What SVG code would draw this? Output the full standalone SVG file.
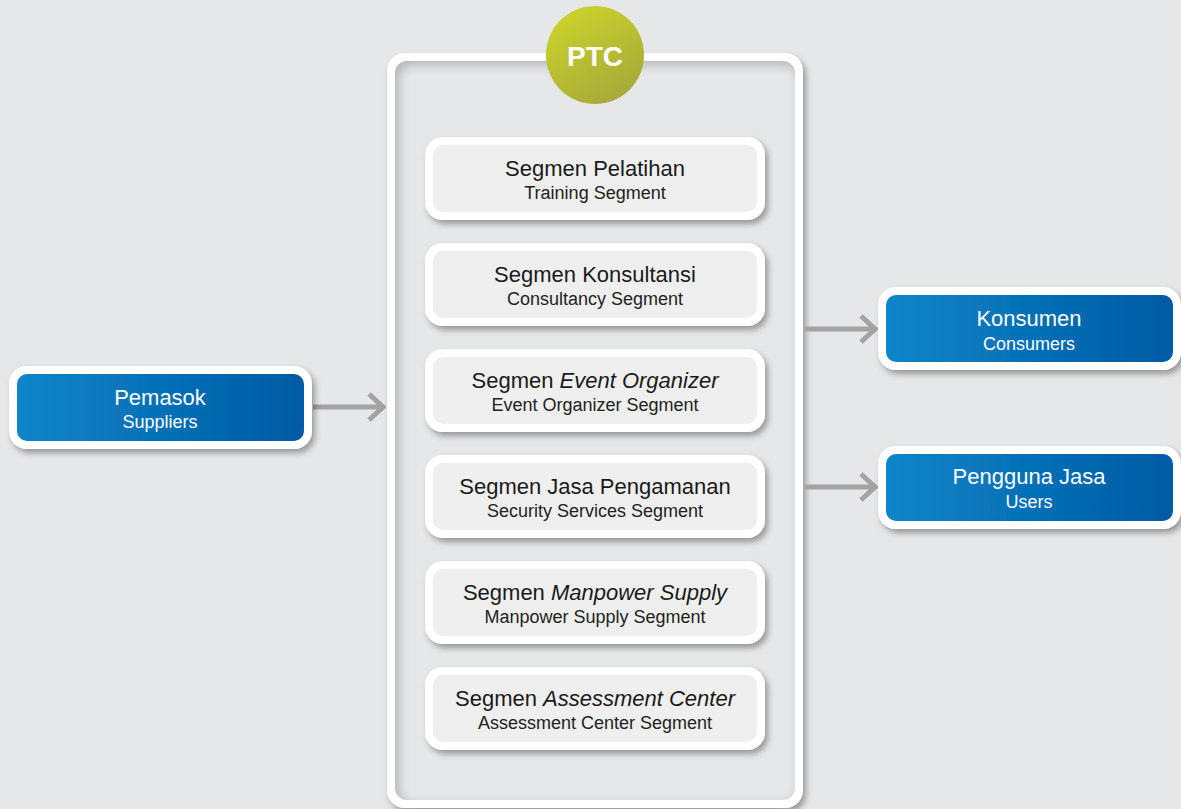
<svg xmlns="http://www.w3.org/2000/svg" width="1181" height="809" viewBox="0 0 1181 809">
<defs>
<linearGradient id="blue" x1="0" y1="0" x2="1" y2="0">
<stop offset="0" stop-color="#0b86c9"/>
<stop offset="1" stop-color="#005aa3"/>
</linearGradient>
<linearGradient id="olive" x1="0.2" y1="0" x2="0.8" y2="1">
<stop offset="0" stop-color="#ccd42b"/>
<stop offset="1" stop-color="#a4a73a"/>
</linearGradient>
<filter id="drop" x="-10%" y="-20%" width="125%" height="150%">
<feDropShadow dx="3" dy="4" stdDeviation="3" flood-color="#000" flood-opacity="0.35"/>
</filter>
<filter id="inset" x="-5%" y="-5%" width="110%" height="110%">
<feComponentTransfer in="SourceAlpha"><feFuncA type="table" tableValues="1 0"/></feComponentTransfer>
<feGaussianBlur stdDeviation="6"/>
<feOffset dx="4" dy="4" result="ob"/>
<feFlood flood-color="#000" flood-opacity="0.45"/>
<feComposite in2="ob" operator="in"/>
<feComposite in2="SourceAlpha" operator="in" result="sh"/>
<feMerge><feMergeNode in="SourceGraphic"/><feMergeNode in="sh"/></feMerge>
</filter>
<marker id="chev" viewBox="0 0 20 30" refX="18" refY="15" markerWidth="20" markerHeight="30" markerUnits="userSpaceOnUse" orient="auto">
<polyline points="3,2 17,15 3,28" fill="none" stroke="#a3a3a3" stroke-width="5"/>
</marker>
</defs>
<style>
text{font-family:"Liberation Sans",Arial,sans-serif;text-anchor:middle}
.seg rect{fill:#efefef;stroke:#fff;stroke-width:8}
.blue rect{fill:url(#blue);stroke:#fff;stroke-width:8}
.t{font-size:22px;fill:#1a1a1a}
.s{font-size:18px;fill:#222}
.bt{font-size:22px;fill:#fff}
.bs{font-size:18px;fill:#fff}
.conn line{stroke:#a3a3a3;stroke-width:5}
</style>
<rect x="0" y="0" width="1181" height="809" fill="#e6e7e8"/>

<g id="ptc-frame">
<rect x="387" y="53" width="416" height="755" rx="18" fill="#fff" filter="url(#drop)"/>
<rect x="395" y="61" width="400" height="739" rx="12" fill="#e6e7e8" filter="url(#inset)"/>
</g>

<g id="ptc">
<circle cx="595" cy="55" r="49" fill="url(#olive)"/>
<text x="595" y="66" style="font-size:28px;font-weight:bold;fill:#fff">PTC</text>
</g>

<g class="conn" id="connectors">
<line x1="313" y1="407" x2="384" y2="407" marker-end="url(#chev)"/>
<line x1="805" y1="329" x2="876" y2="329" marker-end="url(#chev)"/>
<line x1="805" y1="487" x2="876" y2="487" marker-end="url(#chev)"/>
</g>

<g id="seg-pelatihan" class="seg">
<rect x="429" y="141" width="332" height="75" rx="14" filter="url(#drop)"/>
<text class="t" x="595" y="176">Segmen Pelatihan</text>
<text class="s" x="595" y="199">Training Segment</text>
</g>
<g id="seg-konsultansi" class="seg">
<rect x="429" y="247" width="332" height="75" rx="14" filter="url(#drop)"/>
<text class="t" x="595" y="282">Segmen Konsultansi</text>
<text class="s" x="595" y="305">Consultancy Segment</text>
</g>
<g id="seg-event" class="seg">
<rect x="429" y="353" width="332" height="75" rx="14" filter="url(#drop)"/>
<text class="t" x="595" y="388">Segmen <tspan font-style="italic">Event Organizer</tspan></text>
<text class="s" x="595" y="411">Event Organizer Segment</text>
</g>
<g id="seg-jasa" class="seg">
<rect x="429" y="459" width="332" height="75" rx="14" filter="url(#drop)"/>
<text class="t" x="595" y="494">Segmen Jasa Pengamanan</text>
<text class="s" x="595" y="517">Security Services Segment</text>
</g>
<g id="seg-manpower" class="seg">
<rect x="429" y="565" width="332" height="75" rx="14" filter="url(#drop)"/>
<text class="t" x="595" y="600">Segmen <tspan font-style="italic">Manpower Supply</tspan></text>
<text class="s" x="595" y="623">Manpower Supply Segment</text>
</g>
<g id="seg-assessment" class="seg">
<rect x="429" y="671" width="332" height="75" rx="14" filter="url(#drop)"/>
<text class="t" x="595" y="706">Segmen <tspan font-style="italic">Assessment Center</tspan></text>
<text class="s" x="595" y="729">Assessment Center Segment</text>
</g>

<g id="pemasok" class="blue">
<rect x="13" y="370" width="295" height="75" rx="14" filter="url(#drop)"/>
<text class="bt" x="160" y="405">Pemasok</text>
<text class="bs" x="160" y="428">Suppliers</text>
</g>
<g id="konsumen" class="blue">
<rect x="882" y="291" width="295" height="75" rx="14" filter="url(#drop)"/>
<text class="bt" x="1029" y="326">Konsumen</text>
<text class="bs" x="1029" y="350">Consumers</text>
</g>
<g id="pengguna" class="blue">
<rect x="882" y="450" width="295" height="75" rx="14" filter="url(#drop)"/>
<text class="bt" x="1029" y="484">Pengguna Jasa</text>
<text class="bs" x="1029" y="508">Users</text>
</g>
</svg>
